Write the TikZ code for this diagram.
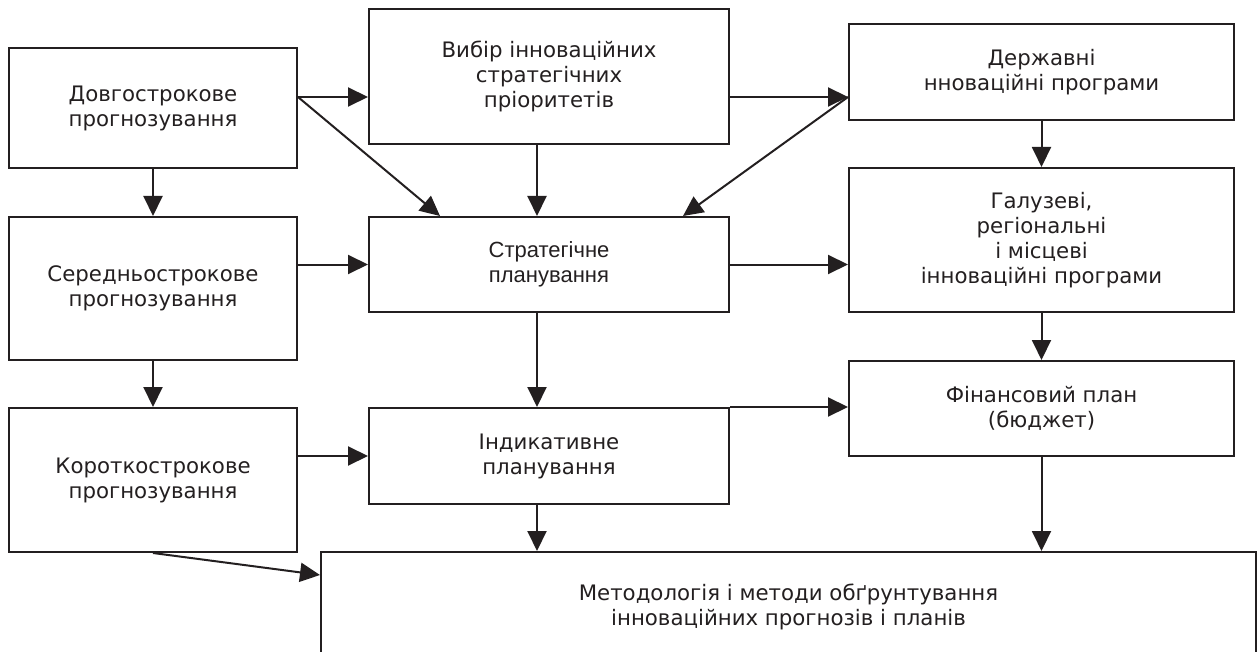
\documentclass[tikz,border=0pt]{standalone}
\usepackage{fontspec}
\setmainfont{DejaVu Sans}
\newfontfamily\arialfont{Liberation Sans}
\usetikzlibrary{arrows.meta}
\definecolor{line_gray}{RGB}{35,31,32}
\newcommand\boxfont{\fontsize{21.3}{25}\selectfont}
\newcommand\arialboxfont{\arialfont\fontsize{22}{25}\selectfont}

\begin{document}
\begin{tikzpicture}[->,line width=2pt,color=line_gray,>={Triangle[length=20pt,width=19pt]},x=1pt,y=-1pt]
    \tikzstyle{box}=[draw=line_gray, rectangle, align=center, inner sep=0pt, text=line_gray, font=\boxfont]
    \tikzstyle{left col}=[style=box, minimum width=288pt]
    \tikzstyle{mid col}=[style=box, minimum width=360pt]
    \tikzstyle{right col}=[style=box, minimum width=385pt]

    \clip (0,0) rectangle (1257,652);

    \node[left col,minimum height=120pt]  (b1) at (153,108)      {Довгострокове\\прогнозування};
    \node[mid col,minimum height=135pt]   (b2) at (549,76.5)     {Вибір інноваційних\\стратегічних\\пріоритетів};
    \node[right col,minimum height=96pt]  (b3) at (1041.5,72)    {Державні\\нноваційні програми};
    \node[left col,minimum height=143pt]  (b4) at (153,288.5)    {Середньострокове\\прогнозування};
    \node[mid col,minimum height=95pt,font=\arialboxfont] (b5) at (549,264.5) {Стратегічне\\планування};
    \node[right col,minimum height=144pt] (b6) at (1041.5,240)   {Галузеві,\\регіональні\\і місцеві\\інноваційні програми};
    \node[left col,minimum height=144pt]  (b7) at (153,480)      {Короткострокове\\прогнозування};
    \node[mid col,minimum height=96pt]    (b8) at (549,456)      {Індикативне\\планування};
    \node[right col,minimum height=95pt]  (b9) at (1041.5,408.5) {Фінансовий план\\(бюджет)};
    \node[box,minimum width=935pt,minimum height=110pt] (b10) at (788.5,607) {Методологія і методи обґрунтування\\інноваційних прогнозів і планів};

    \coordinate (p1) at ([yshift=11pt]b1.east);
    \coordinate (p2) at (p1 -| b3.west);
    \coordinate (mc) at (537,0);
    \path
     (b1.south) edge (b4.north)
     (b4.south) edge (b7.north)
     (p1) edge (p1 -| b2.west)
     (p1 -| b2.east) edge (p2)
     (p1) edge ([xshift=-109pt]b5.north)
     (p2) edge ([xshift=134pt]b5.north)
     (mc |- b2.south) edge (mc |- b5.north)
     (mc |- b5.south) edge (mc |- b8.north)
     (mc |- b8.south) edge (mc |- b10.north)
     (b4.east |- b5.west) edge (b5.west)
     (b5.east) edge (b5.east -| b6.west)
     (b3.south) edge (b6.north)
     (b6.south) edge (b9.north)
     (b7.east |- b8.west) edge (b8.west)
     (b8.north east) edge (b8.north east -| b9.west)
     (b9.south) edge (b9.south |- b10.north)
     (b7.south) edge ([yshift=-24pt]b10.north west)
     ;
\end{tikzpicture}
\end{document}
